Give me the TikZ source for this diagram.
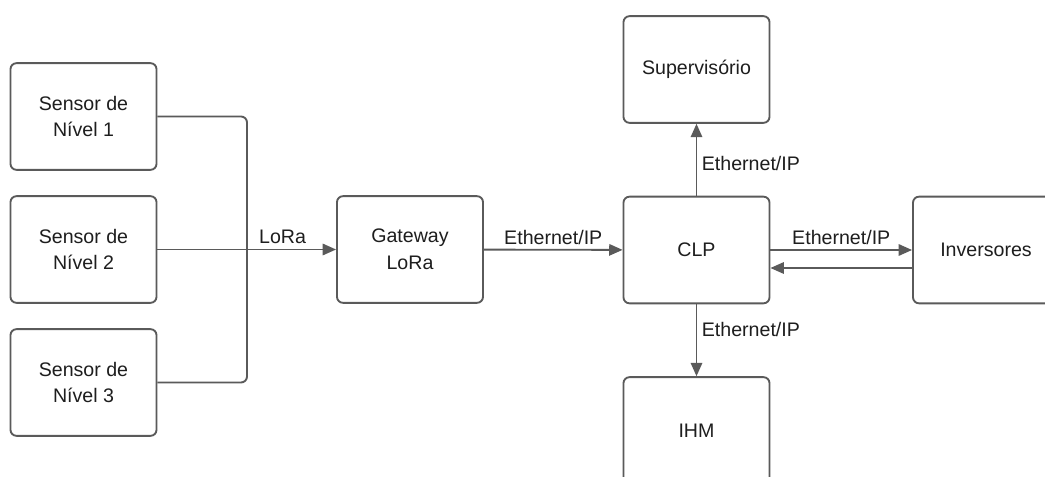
\documentclass[tikz,border=0pt]{standalone}
\usepackage{fontspec}
\setmainfont{Liberation Sans}
\usetikzlibrary{arrows.meta}
\definecolor{linegray}{HTML}{5A5A5A}
\definecolor{textgray}{HTML}{1E1E1E}

\begin{document}
\begin{tikzpicture}[x=0.75pt,y=-0.75pt,
    >={Triangle[length=10pt,width=8.5pt]},
    conn/.style={line width=1.4pt, draw=linegray},
    lbl/.style={text=textgray, font=\fontsize{14.7}{20}\selectfont}]

      \clip (0,0) rectangle (1045,477);
      \fill[white] (0,0) rectangle (1045,477);

      \begin{scope}[every node/.style={rectangle, rounded corners=4.5pt, draw=linegray,
          line width=1.4pt, minimum width=109.5pt, minimum height=80pt, align=center,
          text=textgray, font=\fontsize{14.7}{20}\selectfont}]
        \node (s1)  at (83.5,116.5) {Sensor de\\Nível 1};
        \node (s2)  at (83.5,249.5) {Sensor de\\Nível 2};
        \node (s3)  at (83.5,382.5) {Sensor de\\Nível 3};
        \node (gw)  at (410,249.5)  {Gateway\\LoRa};
        \node (clp) at (696.5,250)  {CLP};
        \node (sup) at (696.5,69.5) {Supervisório};
        \node (ihm) at (696.5,430.5) {IHM};
        \node (inv) at (986,250)    {Inversores};
      \end{scope}

      \coordinate (bus) at (247,249.5);

      \draw[conn, rounded corners=4.5pt] (s1) -| (bus);
      \draw[conn, rounded corners=4.5pt] (s3) -| (bus);
      \draw[conn] (s2) -- (bus);

      \begin{scope}[every node/.style={lbl}, every edge/.style={conn, ->}]
        \path (bus) edge node[above, pos=0.4] {LoRa} (gw);
        \path (gw)  edge node[above] {Ethernet/IP} (clp);
        \path (clp) edge node[above] {Ethernet/IP} (inv);
        \path ([yshift=-13.5pt]inv.west) edge ([yshift=-13.5pt]clp.east);
        \path (clp) edge node[right, pos=0.45] {Ethernet/IP} (sup);
        \path (clp) edge node[right, pos=0.35] {Ethernet/IP} (ihm);
      \end{scope}

    \end{tikzpicture}
\end{document}
